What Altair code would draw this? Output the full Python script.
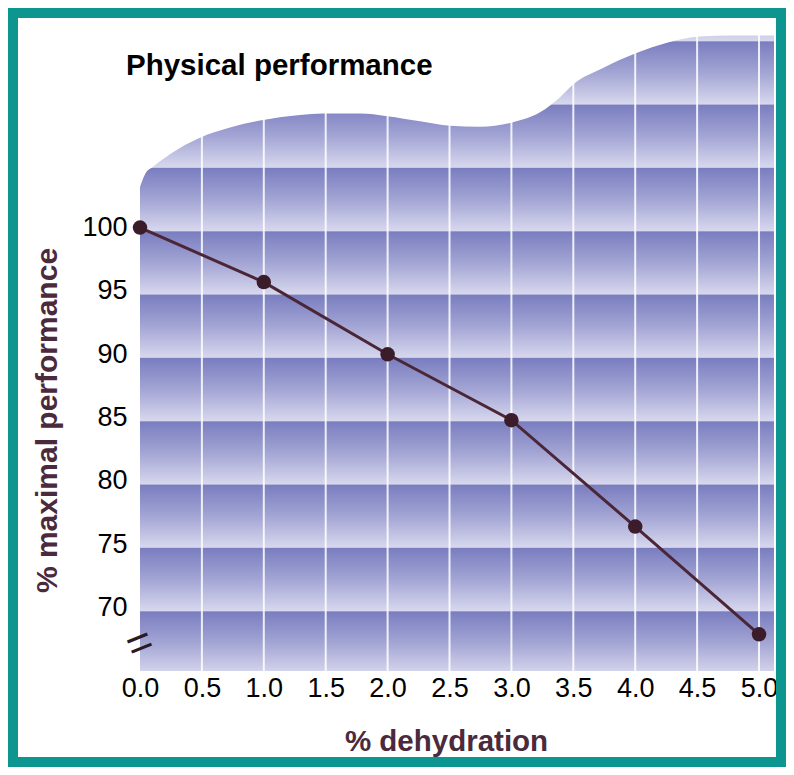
import altair as alt
import pandas as pd

# ---- data ----
dehydration = [0.0, 1.0, 2.0, 3.0, 4.0, 5.0]
performance = [100.0, 95.7, 90.0, 84.8, 76.4, 67.9]

x_ticks = [0.0, 0.5, 1.0, 1.5, 2.0, 2.5, 3.0, 3.5, 4.0, 4.5, 5.0]
y_ticks = [70, 75, 80, 85, 90, 95, 100]
grid_x = [0.5, 1.0, 1.5, 2.0, 2.5, 3.0, 3.5, 4.0, 4.5, 5.0]

# shaded background: horizontal bands starting at each 5-unit step
band_tops = [120, 115, 110, 105, 100, 95, 90, 85, 80, 75, 70]

# wavy top edge of the shaded background
wave_x = [0.0, 0.04, 0.105, 0.242, 0.485, 0.727, 0.994, 1.292, 1.478, 1.777,
          1.995, 2.262, 2.504, 2.746, 3.005, 3.231, 3.393, 3.498, 3.74, 4.015,
          4.257, 4.523, 4.766, 5.121]
wave_y = [103.2, 104.2, 104.8, 105.8, 107.1, 107.9, 108.5, 108.9, 109.0, 109.0,
          108.8, 108.4, 108.05, 107.97, 108.3, 109.1, 110.3, 111.3, 112.6, 113.8,
          114.6, 115.08, 115.16, 115.16]

TITLE = "Physical performance"
X_TITLE = "% dehydration"
Y_TITLE = "% maximal performance"

X_DOMAIN = [0, 5.121]
Y_DOMAIN = [65, 115.6]
BAND_SHIFT = 0.28

FONT = "Liberation Sans"
LINE_COLOR = "#4a2636"
POINT_COLOR = "#3b1c2b"
TITLE_COLOR = "#4a2a3c"

xs = alt.Scale(domain=X_DOMAIN, nice=False, zero=False)
ys = alt.Scale(domain=Y_DOMAIN, nice=False, zero=False)

bands = pd.DataFrame({
    "x": [X_DOMAIN[0]] * len(band_tops),
    "x2": [X_DOMAIN[1]] * len(band_tops),
    "y": [t - BAND_SHIFT for t in band_tops],
    "y2": [t - 5 - BAND_SHIFT for t in band_tops],
})
line_df = pd.DataFrame({"dehydration": dehydration, "performance": performance})
grid_df = pd.DataFrame({"x": grid_x})
wave_df = pd.DataFrame({"x": wave_x, "y": wave_y, "top": [Y_DOMAIN[1]] * len(wave_x)})

gradient = alt.Gradient(
    gradient="linear",
    stops=[alt.GradientStop(color="#797dbf", offset=0),
           alt.GradientStop(color="#a3a5d4", offset=0.5),
           alt.GradientStop(color="#d8d8ee", offset=1)],
    x1=0, x2=0, y1=0, y2=1,
)

x_axis = alt.Axis(
    values=x_ticks, format=".1f", domain=False, ticks=False, grid=False,
    labelFont=FONT, labelFontSize=27, labelColor="black", labelPadding=4,
    labelFlush=False, labelOverlap=False,
    title=X_TITLE, titleFont=FONT, titleFontSize=29.5, titleFontWeight="bold",
    titleColor=TITLE_COLOR, titleX=306, titleY=70, titleAlign="center",
    titleBaseline="middle",
)
y_axis = alt.Axis(
    values=y_ticks, domain=False, ticks=False, grid=False,
    labelFont=FONT, labelFontSize=27, labelColor="black", labelPadding=13,
    title=Y_TITLE, titleFont=FONT, titleFontSize=30,
    titleFontWeight="bold", titleColor=TITLE_COLOR, titleX=-93, titleY=390,
    titleAngle=270, titleAlign="center", titleBaseline="middle",
)

band_layer = alt.Chart(bands).mark_rect(fill=gradient, clip=True).encode(
    x=alt.X("x:Q", scale=xs, axis=x_axis),
    x2="x2:Q",
    y=alt.Y("y:Q", scale=ys, axis=y_axis),
    y2="y2:Q",
)

grid_layer = alt.Chart(grid_df).mark_rule(color="white", opacity=0.85, strokeWidth=2).encode(
    x=alt.X("x:Q", scale=xs),
    y=alt.datum(Y_DOMAIN[0], scale=ys),
    y2=alt.datum(Y_DOMAIN[1]),
)

mask_layer = alt.Chart(wave_df).mark_area(color="white", interpolate="monotone", opacity=1).encode(
    x=alt.X("x:Q", scale=xs),
    y=alt.Y("y:Q", scale=ys),
    y2="top:Q",
)

line_layer = alt.Chart(line_df).mark_line(color=LINE_COLOR, strokeWidth=3).encode(
    x=alt.X("dehydration:Q", scale=xs),
    y=alt.Y("performance:Q", scale=ys),
)

point_layer = alt.Chart(line_df).mark_circle(color=POINT_COLOR, size=210, opacity=1).encode(
    x=alt.X("dehydration:Q", scale=xs),
    y=alt.Y("performance:Q", scale=ys),
)

break_layer = alt.Chart(pd.DataFrame({"x": [0.0], "y": [67.1]})).mark_text(
    text="=", font=FONT, fontSize=44, angle=338, color="#2a1a22",
    align="center", baseline="middle",
).encode(
    x=alt.X("x:Q", scale=xs),
    y=alt.Y("y:Q", scale=ys),
)

title_layer = alt.Chart(pd.DataFrame({"t": [TITLE]})).mark_text(
    font=FONT, fontSize=29.5, fontWeight="bold", color="black",
    align="left", baseline="alphabetic",
).encode(
    text="t:N", x=alt.value(-14), y=alt.value(44.6),
)

frame_layer = alt.Chart(pd.DataFrame({"k": [0]})).mark_rect(
    fill=None, stroke="#0d958f", strokeWidth=10, clip=False,
).encode(
    x=alt.value(-127), x2=alt.value(641), y=alt.value(-17), y2=alt.value(732),
)

chart = alt.layer(
    band_layer, grid_layer, mask_layer, line_layer, point_layer, break_layer,
    title_layer, frame_layer
).properties(
    width=634,
    height=641,
    padding={"left": 132, "top": 22, "right": 12, "bottom": 96},
    autosize=alt.AutoSizeParams(type="none"),
    background="white",
).configure_view(strokeWidth=0)

chart.save("out.html", embed_options={"renderer": "svg", "actions": False})
